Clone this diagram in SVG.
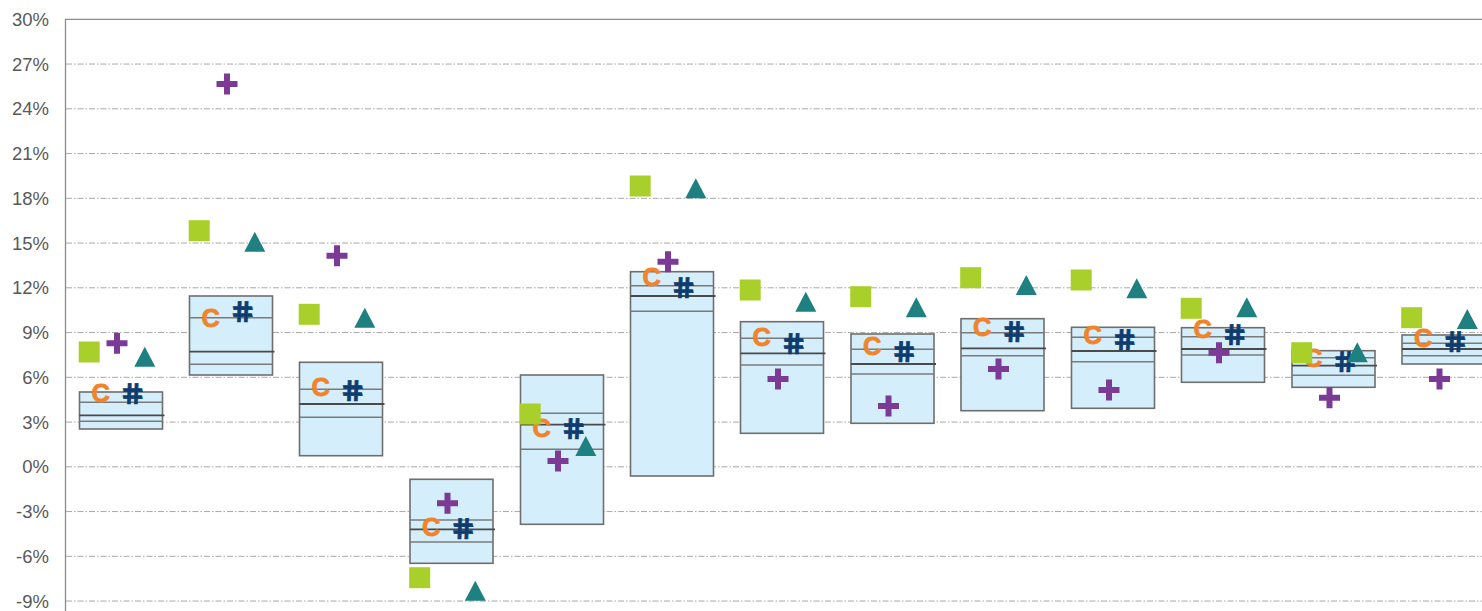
<svg xmlns="http://www.w3.org/2000/svg" xmlns:xlink="http://www.w3.org/1999/xlink" width="1482" height="611" viewBox="0 0 1482 611">
<style>
.grid{stroke:#A8A8A8;stroke-width:1;stroke-dasharray:6 2 1.5 2;fill:none}
.frame{stroke:#8C8C8C;stroke-width:1.3;fill:none}
.lbl{font-family:"Liberation Sans",Arial,sans-serif;font-size:18.5px;fill:#595959;text-anchor:end}
.box{fill:#D5EEFB;stroke:#6E6E6E;stroke-width:1.6}
.q{stroke:#7A7A7A;stroke-width:1.4}
.med{stroke:#4A4A4A;stroke-width:1.8}
.c{font-family:"Liberation Sans",Arial,sans-serif;font-weight:bold;font-size:25.5px;fill:#F0842C;stroke:#F0842C;stroke-width:0.8;text-anchor:middle}
.h{font-family:"DejaVu Sans",sans-serif;font-weight:bold;font-size:29px;fill:#0E3C6E;stroke:#0E3C6E;stroke-width:0.6;text-anchor:middle}
.sq{fill:#A9CF2B}
.pl{fill:#7A3A96}
.tr{fill:#1E8080}
</style>
<defs>
<rect id="sq" class="sq" x="-10.5" y="-10.5" width="21" height="21"/>
<path id="pl" class="pl" d="M-10.5,-3H10.5V3H-10.5Z M-3,-10.5H3V10.5H-3Z"/>
<path id="tr" class="tr" d="M0,-10L10.5,10H-10.5Z"/>
</defs>
<rect x="0" y="0" width="1482" height="611" fill="#FFFFFF"/>
<g id="axes">
<line class="grid" x1="66" y1="64.05" x2="1482" y2="64.05"/>
<line class="grid" x1="66" y1="108.8" x2="1482" y2="108.8"/>
<line class="grid" x1="66" y1="153.55" x2="1482" y2="153.55"/>
<line class="grid" x1="66" y1="198.3" x2="1482" y2="198.3"/>
<line class="grid" x1="66" y1="243.05" x2="1482" y2="243.05"/>
<line class="grid" x1="66" y1="287.8" x2="1482" y2="287.8"/>
<line class="grid" x1="66" y1="332.55" x2="1482" y2="332.55"/>
<line class="grid" x1="66" y1="377.3" x2="1482" y2="377.3"/>
<line class="grid" x1="66" y1="422.05" x2="1482" y2="422.05"/>
<line class="grid" x1="66" y1="466.8" x2="1482" y2="466.8"/>
<line class="grid" x1="66" y1="511.55" x2="1482" y2="511.55"/>
<line class="grid" x1="66" y1="556.3" x2="1482" y2="556.3"/>
<line class="grid" x1="66" y1="601.05" x2="1482" y2="601.05"/>
<path class="frame" d="M65.5,611V19.3H1482"/>
<text class="lbl" x="49" y="25.8">30%</text>
<text class="lbl" x="49" y="70.55">27%</text>
<text class="lbl" x="49" y="115.3">24%</text>
<text class="lbl" x="49" y="160.05">21%</text>
<text class="lbl" x="49" y="204.8">18%</text>
<text class="lbl" x="49" y="249.55">15%</text>
<text class="lbl" x="49" y="294.3">12%</text>
<text class="lbl" x="49" y="339.05">9%</text>
<text class="lbl" x="49" y="383.8">6%</text>
<text class="lbl" x="49" y="428.55">3%</text>
<text class="lbl" x="49" y="473.3">0%</text>
<text class="lbl" x="49" y="518.05">-3%</text>
<text class="lbl" x="49" y="562.8">-6%</text>
<text class="lbl" x="49" y="607.55">-9%</text>
</g>
<g id="col1" transform="translate(79.5,0)">
<rect class="box" x="0" y="392" width="83" height="37"/>
<line class="q" x1="0" y1="402.3" x2="83" y2="402.3"/><line class="med" x1="0" y1="415.3" x2="85" y2="415.3"/><line class="q" x1="0" y1="421.3" x2="83" y2="421.3"/>
<text class="c" x="21.2" y="402">C</text><text class="h" transform="translate(55.5,403.5) skewX(12)">#</text>
<use xlink:href="#sq" x="9.7" y="352"/><use xlink:href="#pl" x="37.5" y="343.3"/><use xlink:href="#tr" x="65.3" y="356.7"/>
</g>
<g id="col2" transform="translate(189.5,0)">
<rect class="box" x="0" y="296" width="83" height="79"/>
<line class="q" x1="0" y1="317.7" x2="83" y2="317.7"/><line class="med" x1="0" y1="351.7" x2="85" y2="351.7"/><line class="q" x1="0" y1="364.3" x2="83" y2="364.3"/>
<text class="c" x="21.2" y="327.3">C</text><text class="h" transform="translate(55.5,321.5) skewX(12)">#</text>
<use xlink:href="#sq" x="9.7" y="230.7"/><use xlink:href="#pl" x="37.5" y="84"/><use xlink:href="#tr" x="65.3" y="241.7"/>
</g>
<g id="col3" transform="translate(299.5,0)">
<rect class="box" x="0" y="362.3" width="83" height="93.4"/>
<line class="q" x1="0" y1="389.3" x2="83" y2="389.3"/><line class="med" x1="0" y1="404" x2="85" y2="404"/><line class="q" x1="0" y1="417.3" x2="83" y2="417.3"/>
<text class="c" x="21.2" y="395.7">C</text><text class="h" transform="translate(55.5,401.2) skewX(12)">#</text>
<use xlink:href="#sq" x="9.7" y="314.3"/><use xlink:href="#pl" x="37.5" y="255.7"/><use xlink:href="#tr" x="65.3" y="317.7"/>
</g>
<g id="col4" transform="translate(410,0)">
<rect class="box" x="0" y="479.3" width="83" height="84"/>
<line class="q" x1="0" y1="520" x2="83" y2="520"/><line class="med" x1="0" y1="529.3" x2="85" y2="529.3"/><line class="q" x1="0" y1="542" x2="83" y2="542"/>
<text class="c" x="21.2" y="535.7">C</text><text class="h" transform="translate(55.5,538.8) skewX(12)">#</text>
<use xlink:href="#sq" x="9.7" y="577.7"/><use xlink:href="#pl" x="37.5" y="503.3"/><use xlink:href="#tr" x="65.3" y="590.7"/>
</g>
<g id="col5" transform="translate(520.5,0)">
<rect class="box" x="0" y="375" width="83" height="149.3"/>
<line class="q" x1="0" y1="413.3" x2="83" y2="413.3"/><line class="med" x1="0" y1="424.7" x2="85" y2="424.7"/><line class="q" x1="0" y1="449.3" x2="83" y2="449.3"/>
<text class="c" x="21.2" y="437.3">C</text><text class="h" transform="translate(55.5,438.8) skewX(12)">#</text>
<use xlink:href="#sq" x="9.7" y="414"/><use xlink:href="#pl" x="37.5" y="461"/><use xlink:href="#tr" x="65.3" y="446"/>
</g>
<g id="col6" transform="translate(630.5,0)">
<rect class="box" x="0" y="271.7" width="83" height="204.3"/>
<line class="q" x1="0" y1="285.7" x2="83" y2="285.7"/><line class="med" x1="0" y1="296" x2="85" y2="296"/><line class="q" x1="0" y1="311.3" x2="83" y2="311.3"/>
<text class="c" x="21.2" y="286.3">C</text><text class="h" transform="translate(55.5,297.8) skewX(12)">#</text>
<use xlink:href="#sq" x="9.7" y="186"/><use xlink:href="#pl" x="37.5" y="261.7"/><use xlink:href="#tr" x="65.3" y="188.3"/>
</g>
<g id="col7" transform="translate(740.5,0)">
<rect class="box" x="0" y="321.7" width="83" height="111.6"/>
<line class="q" x1="0" y1="338.3" x2="83" y2="338.3"/><line class="med" x1="0" y1="353.3" x2="85" y2="353.3"/><line class="q" x1="0" y1="365" x2="83" y2="365"/>
<text class="c" x="21.2" y="345.7">C</text><text class="h" transform="translate(55.5,353.8) skewX(12)">#</text>
<use xlink:href="#sq" x="9.7" y="290"/><use xlink:href="#pl" x="37.5" y="379"/><use xlink:href="#tr" x="65.3" y="301.7"/>
</g>
<g id="col8" transform="translate(851,0)">
<rect class="box" x="0" y="334" width="83" height="89.3"/>
<line class="q" x1="0" y1="349.3" x2="83" y2="349.3"/><line class="med" x1="0" y1="364" x2="85" y2="364"/><line class="q" x1="0" y1="374" x2="83" y2="374"/>
<text class="c" x="21.2" y="355">C</text><text class="h" transform="translate(55.5,362.2) skewX(12)">#</text>
<use xlink:href="#sq" x="9.7" y="296.7"/><use xlink:href="#pl" x="37.5" y="406"/><use xlink:href="#tr" x="65.3" y="307.3"/>
</g>
<g id="col9" transform="translate(961,0)">
<rect class="box" x="0" y="318.7" width="83" height="92"/>
<line class="q" x1="0" y1="332.7" x2="83" y2="332.7"/><line class="med" x1="0" y1="348.3" x2="85" y2="348.3"/><line class="q" x1="0" y1="355.7" x2="83" y2="355.7"/>
<text class="c" x="21.2" y="335.7">C</text><text class="h" transform="translate(55.5,342.2) skewX(12)">#</text>
<use xlink:href="#sq" x="9.7" y="277.7"/><use xlink:href="#pl" x="37.5" y="369"/><use xlink:href="#tr" x="65.3" y="285"/>
</g>
<g id="col10" transform="translate(1071.5,0)">
<rect class="box" x="0" y="327.3" width="83" height="81"/>
<line class="q" x1="0" y1="337.3" x2="83" y2="337.3"/><line class="med" x1="0" y1="351" x2="85" y2="351"/><line class="q" x1="0" y1="361.7" x2="83" y2="361.7"/>
<text class="c" x="21.2" y="344">C</text><text class="h" transform="translate(55.5,349.5) skewX(12)">#</text>
<use xlink:href="#sq" x="9.7" y="280"/><use xlink:href="#pl" x="37.5" y="390"/><use xlink:href="#tr" x="65.3" y="288.3"/>
</g>
<g id="col11" transform="translate(1181.5,0)">
<rect class="box" x="0" y="327.7" width="83" height="54.6"/>
<line class="q" x1="0" y1="336.7" x2="83" y2="336.7"/><line class="med" x1="0" y1="349" x2="85" y2="349"/><line class="q" x1="0" y1="355" x2="83" y2="355"/>
<text class="c" x="21.2" y="338">C</text><text class="h" transform="translate(55.5,344.5) skewX(12)">#</text>
<use xlink:href="#sq" x="9.7" y="308.3"/><use xlink:href="#pl" x="37.5" y="352.7"/><use xlink:href="#tr" x="65.3" y="307.3"/>
</g>
<g id="col12" transform="translate(1292,0)">
<rect class="box" x="0" y="350.7" width="83" height="36.6"/>
<line class="q" x1="0" y1="357.7" x2="83" y2="357.7"/><line class="med" x1="0" y1="365.7" x2="85" y2="365.7"/><line class="q" x1="0" y1="375.3" x2="83" y2="375.3"/>
<text class="c" x="21.2" y="366.7">C</text><text class="h" transform="translate(55.5,372.2) skewX(12)">#</text>
<use xlink:href="#sq" x="9.7" y="352.7"/><use xlink:href="#pl" x="37.5" y="397.7"/><use xlink:href="#tr" x="65.3" y="352.3"/>
</g>
<g id="col13" transform="translate(1402,0)">
<rect class="box" x="0" y="335" width="83" height="29"/>
<line class="q" x1="0" y1="343.3" x2="83" y2="343.3"/><line class="med" x1="0" y1="349" x2="85" y2="349"/><line class="q" x1="0" y1="355.7" x2="83" y2="355.7"/>
<text class="c" x="21.2" y="347.3">C</text><text class="h" transform="translate(55.5,352.2) skewX(12)">#</text>
<use xlink:href="#sq" x="9.7" y="317.7"/><use xlink:href="#pl" x="37.5" y="379"/><use xlink:href="#tr" x="65.3" y="319"/>
</g>
</svg>
